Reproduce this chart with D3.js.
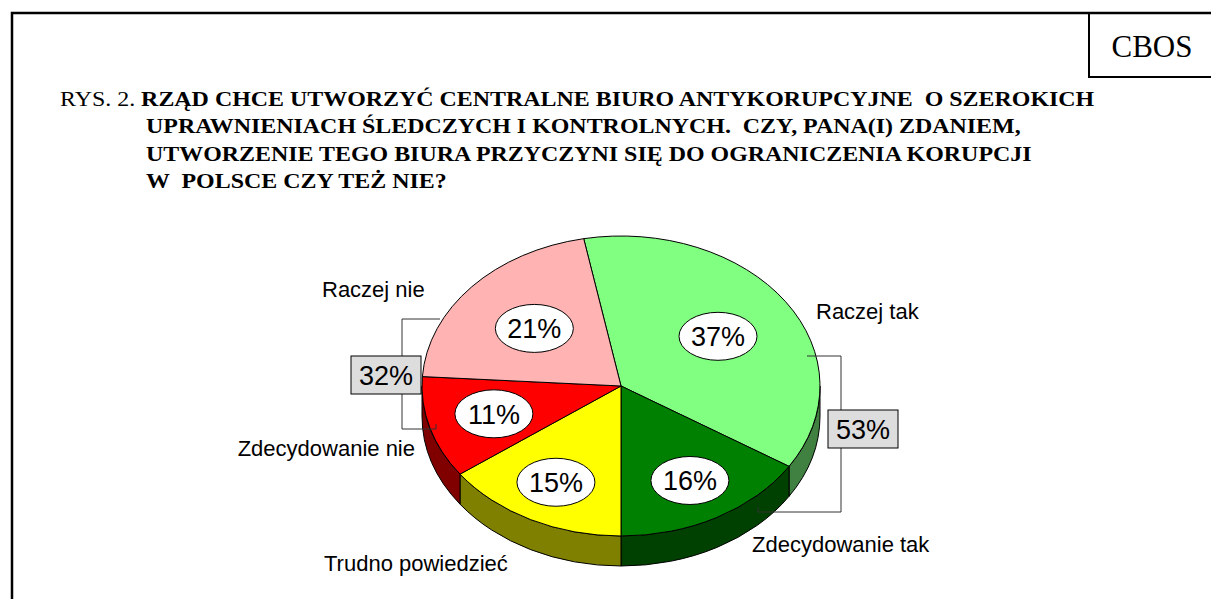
<!DOCTYPE html>
<html>
<head>
<meta charset="utf-8">
<script src="https://cdn.jsdelivr.net/npm/d3@7"></script>
<style>
  html, body { margin: 0; padding: 0; background: #fff; }
  svg { display: block; }
</style>
</head>
<body>
<svg id="chart" width="1211" height="599"></svg>
<script>
// data
const categories = ['Raczej tak', 'Zdecydowanie tak', 'Trudno powiedzieć', 'Zdecydowanie nie', 'Raczej nie'];
const values = [37, 16, 15, 11, 21];
const topColors = ['#80ff80', '#008000', '#ffff00', '#ff0000', '#ffb3b3'];
const sideColors = ['#408040', '#004000', '#808000', '#800000', '#805a5a'];
const groupYes = ['Raczej tak', 'Zdecydowanie tak'];
const groupNo = ['Raczej nie', 'Zdecydowanie nie'];
const titleLines = [
  'UPRAWNIENIACH ŚLEDCZYCH I KONTROLNYCH.  CZY, PANA(I) ZDANIEM,',
  'UTWORZENIE TEGO BIURA PRZYCZYNI SIĘ DO OGRANICZENIA KORUPCJI',
  'W  POLSCE CZY TEŻ NIE?'
];

const svg = d3.select('#chart');
const W = 1211, H = 599;

// frame + CBOS box
svg.append('path')
  .attr('d', `M12,${H} L12,13 L${W},13`)
  .attr('fill', 'none').attr('stroke', '#000').attr('stroke-width', 2.5);
svg.append('path')
  .attr('d', `M1089,13 L1089,77 L${W},77`)
  .attr('fill', 'none').attr('stroke', '#000').attr('stroke-width', 2);
svg.append('text')
  .attr('x', 1152).attr('y', 57)
  .attr('text-anchor', 'middle')
  .style('font-family', '"Liberation Serif", "Times New Roman", serif')
  .style('font-size', '31px')
  .text('CBOS');

// title (the original is typeset a bit wider than the font, so stretch it)
const titleG = svg.append('g');
const title = titleG.append('text')
  .attr('x', 60).attr('y', 106)
  .attr('xml:space', 'preserve')
  .style('font-family', '"Liberation Serif", "Times New Roman", serif')
  .style('font-size', '20px')
  .style('white-space', 'pre');
title.append('tspan').text('RYS. 2. ');
title.append('tspan').style('font-weight', 'bold')
  .text('RZĄD CHCE UTWORZYĆ CENTRALNE BIURO ANTYKORUPCYJNE  O SZEROKICH');
titleLines.forEach((t, i) => {
  title.append('tspan')
    .attr('x', 60 + 86 / 1.25).attr('y', 106 + 27.5 * (i + 1))
    .style('font-weight', 'bold')
    .text(t);
});
const tw = title.node().getBBox().width;
const sx = 1035 / tw;
titleG.attr('transform', `translate(60,0) scale(${sx},1) translate(-60,0)`);
title.selectAll('tspan').filter((d, i) => i > 1).attr('x', 60 + 86 / sx);

// pie geometry
const cx = 621, cy = 386, rx = 199, ry = 150, depth = 30;
const P = (a, r = 1, dy = 0) => [cx + rx * r * Math.sin(a), cy - ry * r * Math.cos(a) + dy];

const start = -10.8 * Math.PI / 180;
const pie = d3.pie().sort(null).startAngle(start).endAngle(start + 2 * Math.PI);
const arcs = pie(values).map((d, i) => ({ ...d, name: categories[i], i }));

const g = svg.append('g');

// side walls (front half only)
arcs.forEach(d => {
  const s0 = Math.max(d.startAngle, Math.PI / 2);
  const s1 = Math.min(d.endAngle, 3 * Math.PI / 2);
  if (s1 <= s0) return;
  const p0 = P(s0), p1 = P(s1), q0 = P(s0, 1, depth), q1 = P(s1, 1, depth);
  const path = `M${p0} A${rx},${ry} 0 0 1 ${p1} L${q1} A${rx},${ry} 0 0 0 ${q0} Z`;
  g.append('path').attr('d', path)
    .attr('fill', sideColors[d.i]).attr('stroke', '#000').attr('stroke-width', 1);
});

// top faces
arcs.forEach(d => {
  const p0 = P(d.startAngle), p1 = P(d.endAngle);
  const large = d.endAngle - d.startAngle > Math.PI ? 1 : 0;
  g.append('path')
    .attr('d', `M${cx},${cy} L${p0} A${rx},${ry} 0 ${large} 1 ${p1} Z`)
    .attr('fill', topColors[d.i]).attr('stroke', '#000').attr('stroke-width', 1)
    .attr('stroke-linejoin', 'round');
});

// percent bubbles
const fmt = v => v + '%';
arcs.forEach(d => {
  const mid = (d.startAngle + d.endAngle) / 2;
  const r = 0.64 - 0.09 * Math.cos(mid);
  const [x, y] = P(mid, r);
  g.append('ellipse').attr('cx', x).attr('cy', y).attr('rx', 39).attr('ry', 24)
    .attr('fill', '#fff').attr('stroke', '#000').attr('stroke-width', 1);
  g.append('text').attr('x', x).attr('y', y + 10)
    .attr('text-anchor', 'middle')
    .style('font-family', '"Liberation Sans", Arial, sans-serif')
    .style('font-size', '27px')
    .text(fmt(d.data));
});

// category labels (offsets from pie centre)
const labelPos = {
  'Raczej nie': { dx: -299, dy: -89, anchor: 'start' },
  'Raczej tak': { dx: 195, dy: -67, anchor: 'start' },
  'Zdecydowanie nie': { dx: -206, dy: 70, anchor: 'end' },
  'Trudno powiedzieć': { dx: -297, dy: 185, anchor: 'start' },
  'Zdecydowanie tak': { dx: 131, dy: 166, anchor: 'start' }
};
categories.forEach(c => {
  const l = labelPos[c];
  svg.append('text')
    .attr('x', cx + l.dx).attr('y', cy + l.dy)
    .attr('text-anchor', l.anchor)
    .style('font-family', '"Liberation Sans", Arial, sans-serif')
    .style('font-size', '22px')
    .text(c);
});

// group brackets
const sumOf = names => d3.sum(names, n => values[categories.indexOf(n)]);
const brackets = [
  { total: sumOf(groupYes), lineX: 220, top: [186, -30], bot: [137, 126], box: [242, 43] },
  { total: sumOf(groupNo), lineX: -219, top: [-181, -67], bot: [-185, 43], box: [-235, -11] }
];
brackets.forEach(b => {
  const x = cx + b.lineX;
  svg.append('path')
    .attr('d', `M${cx + b.top[0]},${cy + b.top[1]} L${x},${cy + b.top[1]} L${x},${cy + b.bot[1]} L${cx + b.bot[0]},${cy + b.bot[1]} l0,-5`)
    .attr('fill', 'none').attr('stroke', '#333').attr('stroke-width', 1);
  const bx = cx + b.box[0], by = cy + b.box[1];
  svg.append('rect').attr('x', bx - 35).attr('y', by - 19).attr('width', 70).attr('height', 38)
    .attr('fill', '#dddddd').attr('stroke', '#000').attr('stroke-width', 1);
  svg.append('text').attr('x', bx).attr('y', by + 10)
    .attr('text-anchor', 'middle')
    .style('font-family', '"Liberation Sans", Arial, sans-serif')
    .style('font-size', '27px')
    .text(fmt(b.total));
});
</script>
</body>
</html>
